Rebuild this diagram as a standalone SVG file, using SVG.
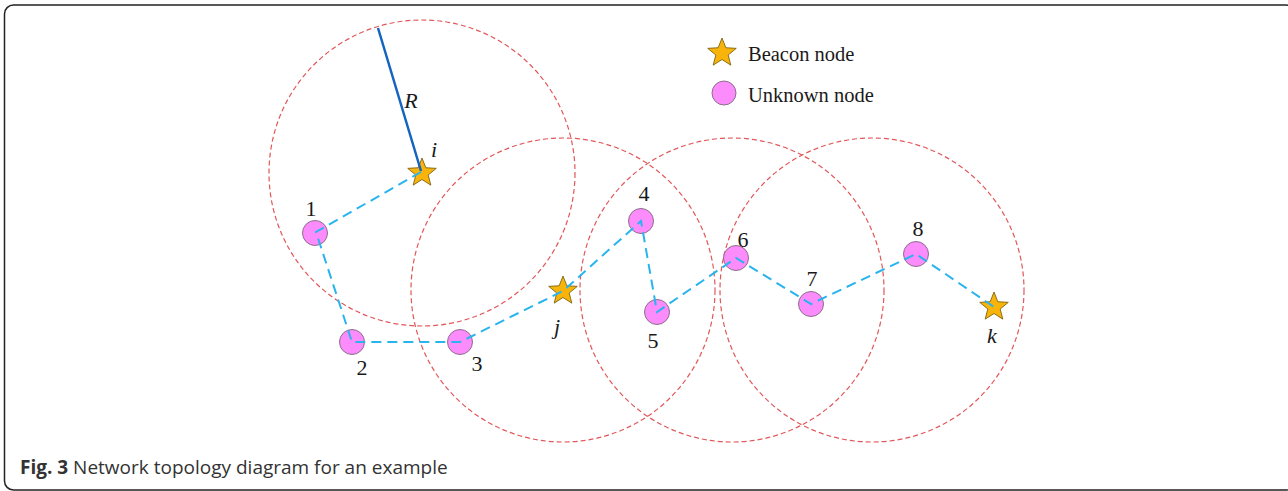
<svg xmlns="http://www.w3.org/2000/svg" xmlns:xlink="http://www.w3.org/1999/xlink" width="1288" height="491" viewBox="0 0 1288 491">
<style>
.range{fill:none;stroke:#e2575a;stroke-width:1.2;stroke-dasharray:5 3}
.unk{fill:#fc8cfc;stroke:#8c6e8c;stroke-width:1}
.bea{fill:#f8b40a;stroke:#7d6410;stroke-width:0.9}
.lbl{font-family:"Liberation Serif",serif;font-size:22px;fill:#1a1a1a;text-anchor:middle}
.it{font-style:italic}
.link{fill:none;stroke:#2ab4ee;stroke-width:2;stroke-dasharray:10 6}
.leg{font-family:"Liberation Serif",serif;font-size:20.5px;fill:#1a1a1a}
.cap{font-family:"Open Sans","Noto Sans",sans-serif;font-size:19px;fill:#333}
</style>
<defs>
<polygon id="star" points="0,-15 3.82,-5.26 14.27,-4.64 6.18,2.01 8.82,12.14 0,6.5 -8.82,12.14 -6.18,2.01 -14.27,-4.64 -3.82,-5.26"/>
</defs>
<rect x="4.5" y="5" width="1290" height="485" rx="9" fill="#fff" stroke="#222" stroke-width="1.5"/>
<g id="ranges">
<circle class="range" cx="422" cy="173" r="153"/>
<circle class="range" cx="563" cy="290" r="152"/>
<circle class="range" cx="732" cy="290" r="152"/>
<circle class="range" cx="872" cy="290" r="152"/>
</g>
<g id="legend">
<use xlink:href="#star" href="#star" class="bea" x="722" y="53"/>
<text class="leg" x="748" y="61">Beacon node</text>
<circle class="unk" cx="724" cy="93" r="12"/>
<text class="leg" x="748" y="102">Unknown node</text>
</g>
<g id="node-i"><use href="#star" xlink:href="#star" class="bea" x="422" y="173"/><text class="lbl it" x="434" y="157">i</text></g>
<g id="node-j"><use href="#star" xlink:href="#star" class="bea" x="563" y="291"/><text class="lbl it" x="557" y="334">j</text></g>
<g id="node-k"><use href="#star" xlink:href="#star" class="bea" x="994" y="307"/><text class="lbl it" x="992" y="343">k</text></g>
<g id="node-1"><circle class="unk" cx="315" cy="233" r="12.5"/><text class="lbl" x="311" y="216">1</text></g>
<g id="node-2"><circle class="unk" cx="352" cy="342" r="12.5"/><text class="lbl" x="362" y="375">2</text></g>
<g id="node-3"><circle class="unk" cx="460" cy="342" r="12.5"/><text class="lbl" x="477" y="371">3</text></g>
<g id="node-4"><circle class="unk" cx="641" cy="221" r="12.5"/><text class="lbl" x="644" y="201">4</text></g>
<g id="node-5"><circle class="unk" cx="657" cy="312" r="12.5"/><text class="lbl" x="653" y="348">5</text></g>
<g id="node-6"><circle class="unk" cx="736" cy="258" r="12.5"/><text class="lbl" x="743" y="247">6</text></g>
<g id="node-7"><circle class="unk" cx="811" cy="304" r="12.5"/><text class="lbl" x="812" y="286">7</text></g>
<g id="node-8"><circle class="unk" cx="916" cy="254" r="12.5"/><text class="lbl" x="918" y="236">8</text></g>
<g id="connectors">
<line x1="378" y1="28" x2="421" y2="171" stroke="#1565c0" stroke-width="2.5"/>
<text class="lbl it" x="411" y="108">R</text>
<polyline class="link" points="421,172 316,232 352,342 460,342 563,291 641,221 657,312 736,258 811,304 916,254 994,307"/>
</g>
<text class="cap" x="20" y="474"><tspan font-weight="bold">Fig. 3</tspan> Network topology diagram for an example</text>
</svg>
